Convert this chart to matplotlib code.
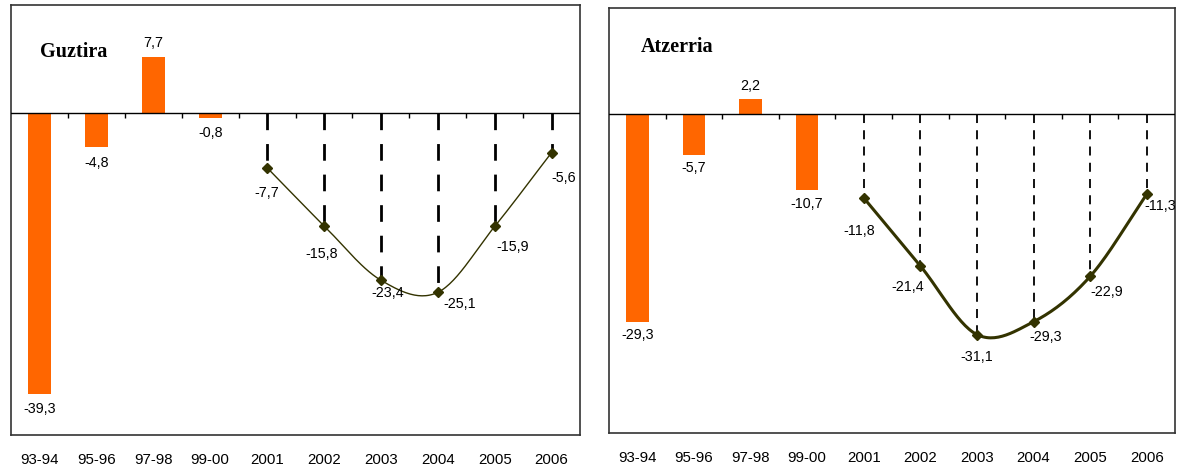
import numpy as np
import matplotlib.pyplot as plt

categories = ['93-94', '95-96', '97-98', '99-00', '2001', '2002', '2003', '2004', '2005', '2006']
n_bars = 4  # first four categories are bars, the rest form the line

guztira = [-39.3, -4.8, 7.7, -0.8, -7.7, -15.8, -23.4, -25.1, -15.9, -5.6]
atzerria = [-29.3, -5.7, 2.2, -10.7, -11.8, -21.4, -31.1, -29.3, -22.9, -11.3]

titles = ['Guztira', 'Atzerria']

ORANGE = '#FF6600'
OLIVE = '#333300'


def fmt(v):
    return f"{v:.1f}".replace('.', ',')


def catmull_rom(x, y, steps=30):
    # smoothed line like the spreadsheet "smoothed line" option
    x = np.asarray(x, float)
    y = np.asarray(y, float)
    px = np.concatenate([[2 * x[0] - x[1]], x, [2 * x[-1] - x[-2]]])
    py = np.concatenate([[2 * y[0] - y[1]], y, [2 * y[-1] - y[-2]]])
    t = np.linspace(0, 1, steps)
    xs, ys = [], []
    for i in range(1, len(px) - 2):
        for p, out in ((px, xs), (py, ys)):
            p0, p1, p2, p3 = p[i - 1], p[i], p[i + 1], p[i + 2]
            out.append(0.5 * (2 * p1 + (-p0 + p2) * t
                              + (2 * p0 - 5 * p1 + 4 * p2 - p3) * t ** 2
                              + (-p0 + 3 * p1 - 3 * p2 + p3) * t ** 3))
    return np.concatenate(xs), np.concatenate(ys)


fig = plt.figure(figsize=(11.77, 4.66), dpi=100)
ax_l = fig.add_axes([11 / 1177, 1 - 435 / 466, 569 / 1177, 430 / 466])
ax_r = fig.add_axes([609 / 1177, 1 - 433 / 466, 566 / 1177, 425 / 466])

panels = [
    (ax_l, guztira, titles[0], 1.0, 2.0, (6, 5),
     [(0, -15), (0, -16), (0, 14), (0, -15)],
     [(0, -25), (-2, -28), (7, -13), (22, -12), (18, -21), (12, -25)],
     (0.051, 0.89)),
    (ax_r, atzerria, titles[1], 2.2, 1.3, (5, 4),
     [(0, -13), (0, -13), (0, 13), (0, -14)],
     [(-5, -33), (-13, -21), (0, -22), (12, -15), (17, -16), (14, -12)],
     (0.057, 0.908)),
]

x = np.arange(len(categories))
font = 'Liberation Sans'

for ax, vals, title, line_w, dash_w, dashes, bar_off, line_off, title_pos in panels:
    vals = np.asarray(vals)
    xb, vb = x[:n_bars], vals[:n_bars]
    xl, vl = x[n_bars:], vals[n_bars:]

    ax.bar(xb, vb, width=0.4, color=ORANGE, zorder=2)

    # dashed drop lines from zero to each line point
    for xi, vi in zip(xl, vl):
        ax.plot([xi, xi], [0, vi], color='black', lw=dash_w,
                dashes=dashes, zorder=2)

    sx, sy = catmull_rom(xl, vl)
    ax.plot(sx, sy, color=OLIVE, lw=line_w, zorder=3)
    ax.plot(xl, vl, linestyle='none', marker='D', ms=5, color=OLIVE, zorder=4)

    ax.axhline(0, color='black', lw=1.0, zorder=3)
    # short category-boundary ticks on the zero line
    ax.vlines(x[:-1] + 0.5, -0.7, 0, color='black', lw=1.0, zorder=3)

    for xi, vi, off in zip(xb, vb, bar_off):
        ax.annotate(fmt(vi), (xi, vi), xytext=off, textcoords='offset pixels',
                    ha='center', va='center', fontsize=10.3, family=font)
    for xi, vi, off in zip(xl, vl, line_off):
        ax.annotate(fmt(vi), (xi, vi), xytext=off, textcoords='offset pixels',
                    ha='center', va='center', fontsize=10.3, family=font)

    ax.text(title_pos[0], title_pos[1], title, transform=ax.transAxes,
            fontsize=14.5, fontweight='bold', family='Liberation Serif',
            ha='left', va='center')

    ax.set_xlim(-0.5, 9.5)
    ax.set_ylim(-45, 15)
    ax.set_yticks([])
    ax.set_xticks(x)
    ax.set_xticklabels(categories, fontsize=10.8, family=font)
    ax.tick_params(axis='x', length=0, pad=13)
    for s in ax.spines.values():
        s.set_color('#333333')
        s.set_linewidth(1.2)

fig.savefig('out.png', dpi=100)
